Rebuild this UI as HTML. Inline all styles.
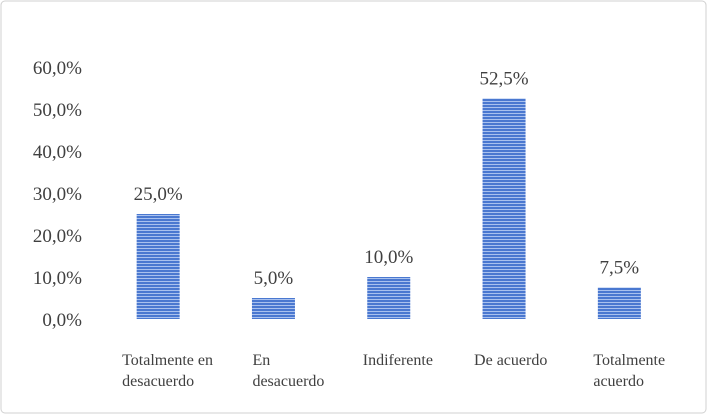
<!DOCTYPE html>
<html><head><meta charset="utf-8"><style>
body{margin:0;background:#fff}
svg{display:block}
text{font-family:"Liberation Serif",serif;fill:#404040}
</style></head><body>
<svg id="chart" width="708" height="415" viewBox="0 0 708 415">
<defs>
<pattern id="stripes" patternUnits="userSpaceOnUse" width="4" height="3">
<rect width="4" height="3" fill="#4a78d0"/>
<rect y="2" width="4" height="1" fill="#a9c1ee"/>
</pattern>
</defs>
<rect x="1" y="1" width="705" height="412" rx="4" fill="#fff" stroke="#d0d0d0" stroke-width="1"/>
<g id="yaxis"></g>
<g id="bars"></g>
<g id="xlabels"></g>
</svg>
<script>
const categories = [["Totalmente en","desacuerdo"],["En","desacuerdo"],["Indiferente"],["De acuerdo"],["Totalmente","acuerdo"]];
const values = [25.0, 5.0, 10.0, 52.5, 7.5];
const valueLabels = ["25,0%","5,0%","10,0%","52,5%","7,5%"];
const yTicks = [0,10,20,30,40,50,60];
const yTickLabels = ["0,0%","10,0%","20,0%","30,0%","40,0%","50,0%","60,0%"];

const NS="http://www.w3.org/2000/svg";
const plotLeft=100.5, plotRight=677, y0=319, pxPer=4.2;
const band=(plotRight-plotLeft)/categories.length, barW=43;
const labelShift=[-36,-21,-26,-30,-26];
const y=v=>y0-v*pxPer;
const x=i=>plotLeft+band*(i+0.5);
function mk(tag,attrs,parent,txt){const e=document.createElementNS(NS,tag);for(const k in attrs)e.setAttribute(k,attrs[k]);if(txt!==undefined)e.textContent=txt;parent.appendChild(e);return e;}
const ya=document.getElementById('yaxis'), bg=document.getElementById('bars'), xl=document.getElementById('xlabels');
yTicks.forEach((t,i)=>{
  const e=mk('text',{x:82,y:y(t)+7,'text-anchor':'end','font-size':19},ya,yTickLabels[i]);
  
  
});
values.forEach((v,i)=>{
  const r=mk('rect',{x:x(i)-barW/2,y:y(v),width:barW,height:v*pxPer,fill:'url(#stripes)'},bg);
  
  
  const l=mk('text',{x:x(i),y:y(v)-14,'text-anchor':'middle','font-size':19},bg,valueLabels[i]);
  
  
});
categories.forEach((c,i)=>{
  const lx=x(i)+labelShift[i];
  const t=mk('text',{x:lx,y:365,'font-size':16},xl);
  
  
  c.forEach((line,j)=>{mk('tspan',{x:lx,dy:j?21:0},t,line);});
});
</script>
</body></html>
